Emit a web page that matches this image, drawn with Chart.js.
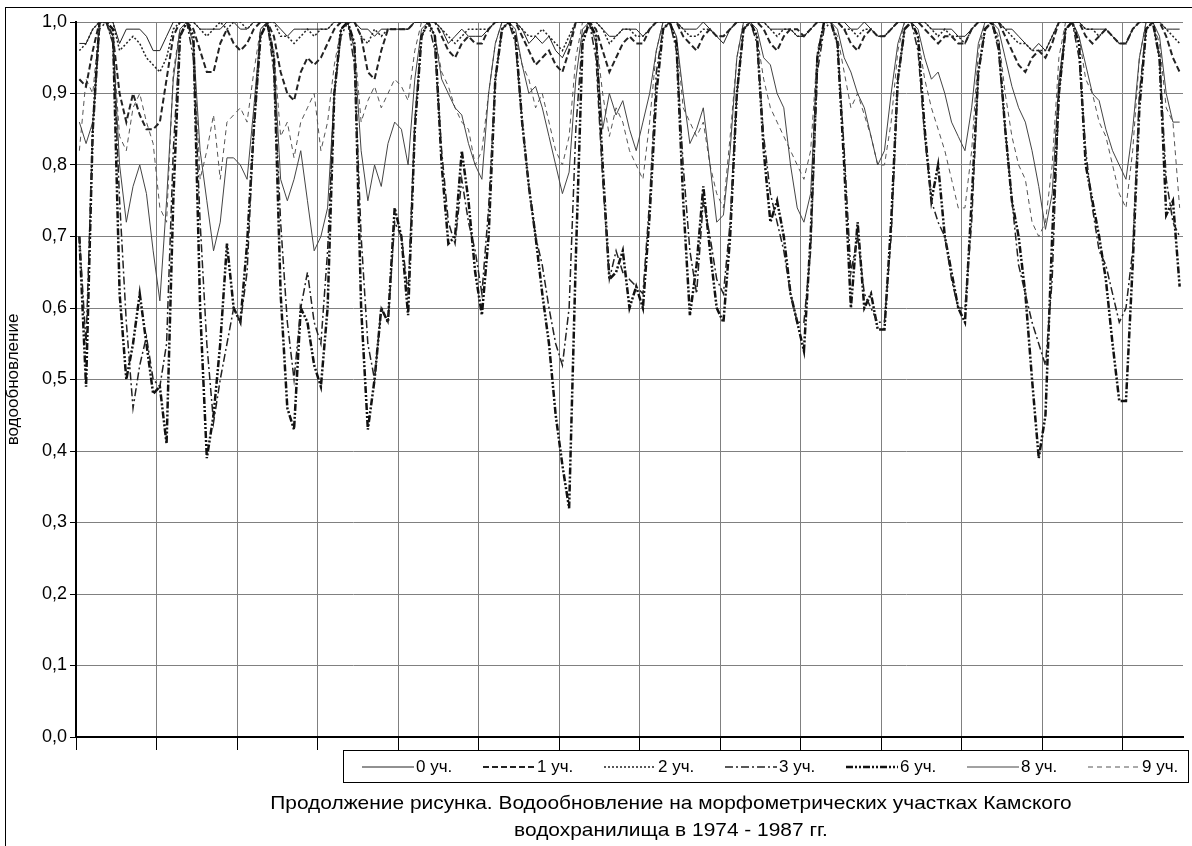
<!DOCTYPE html>
<html>
<head>
<meta charset="utf-8">
<script src="https://cdn.jsdelivr.net/npm/chart.js@4.4.1/dist/chart.umd.min.js"></script>
<style>
  html, body { margin: 0; padding: 0; background: #fff; }
  #wrap { width: 1192px; height: 846px; }
</style>
</head>
<body>
<div id="wrap"><canvas id="chart" width="1192" height="846"></canvas></div>
<script>
// monthly values, Jan 1974 .. Sep 1987
const years = [1974, 1975, 1976, 1977, 1978, 1979, 1980, 1981, 1982, 1983, 1984, 1985, 1986, 1987];
const months = ['I', 'II', 'III', 'IV', 'V', 'VI', 'VII', 'VIII', 'IX', 'X', 'XI', 'XII'];
const lastYearMonths = 9;
const yTickLabels = ['0,0', '0,1', '0,2', '0,3', '0,4', '0,5', '0,6', '0,7', '0,8', '0,9', '1,0'];
const seriesNames = ['0 уч.', '1 уч.', '2 уч.', '3 уч.', '6 уч.', '8 уч.', '9 уч.'];
const captionLines = [
    'Продолжение рисунка. Водообновление на морфометрических участках Камского',
    'водохранилища в 1974 - 1987 гг.'
];

const uch0 = [
    0.97, 0.97, 0.99, 1.00, 1.00, 1.00, 0.97, 0.99, 0.99, 0.99, 0.98, 0.96,
    0.96, 0.98, 1.00, 1.00, 1.00, 1.00, 0.99, 0.99, 0.99, 0.99, 1.00, 1.00,
    0.99, 0.99, 1.00, 1.00, 1.00, 1.00, 0.99, 0.98, 0.99, 0.99, 0.99, 0.99,
    0.99, 0.99, 1.00, 1.00, 1.00, 1.00, 0.99, 0.99, 0.98, 0.99, 0.99, 0.99,
    0.99, 0.99, 1.00, 1.00, 1.00, 1.00, 0.99, 0.97, 0.98, 0.99, 0.98, 0.98,
    0.98, 0.99, 1.00, 1.00, 1.00, 1.00, 0.99, 0.97, 0.98, 0.97, 0.98, 0.96,
    0.95, 0.97, 1.00, 1.00, 1.00, 1.00, 0.99, 0.98, 0.98, 0.99, 0.99, 0.99,
    0.98, 0.99, 1.00, 1.00, 1.00, 1.00, 0.99, 0.99, 0.99, 1.00, 0.99, 0.98,
    0.97, 0.99, 1.00, 1.00, 1.00, 1.00, 1.00, 0.99, 0.99, 0.99, 0.99, 0.98,
    0.98, 0.99, 1.00, 1.00, 1.00, 1.00, 1.00, 0.99, 0.99, 1.00, 0.99, 0.98,
    0.98, 0.99, 1.00, 1.00, 1.00, 1.00, 1.00, 0.99, 0.99, 0.99, 0.99, 0.98,
    0.98, 0.99, 1.00, 1.00, 1.00, 1.00, 0.99, 0.99, 0.98, 0.97, 0.96, 0.97,
    0.96, 0.98, 1.00, 1.00, 1.00, 1.00, 0.99, 0.99, 0.99, 0.99, 0.98, 0.97,
    0.97, 0.99, 1.00, 1.00, 1.00, 1.00, 0.99, 0.99, 0.99
];
const uch1 = [
    0.92, 0.91, 0.96, 1.00, 1.00, 0.98, 0.90, 0.86, 0.90, 0.87, 0.85, 0.85,
    0.86, 0.92, 0.98, 1.00, 1.00, 0.99, 0.96, 0.93, 0.93, 0.97, 0.99, 0.97,
    0.96, 0.97, 0.99, 1.00, 1.00, 0.98, 0.93, 0.90, 0.89, 0.93, 0.95, 0.94,
    0.95, 0.97, 0.99, 1.00, 1.00, 1.00, 0.98, 0.93, 0.92, 0.96, 0.99, 0.99,
    0.99, 0.99, 1.00, 1.00, 1.00, 1.00, 0.98, 0.96, 0.95, 0.97, 0.98, 0.97,
    0.97, 0.99, 1.00, 1.00, 1.00, 1.00, 0.98, 0.96, 0.94, 0.95, 0.96, 0.94,
    0.93, 0.96, 1.00, 1.00, 1.00, 0.99, 0.96, 0.93, 0.95, 0.97, 0.98, 0.97,
    0.97, 0.99, 1.00, 1.00, 1.00, 1.00, 0.98, 0.97, 0.96, 0.98, 0.99, 0.98,
    0.98, 0.99, 1.00, 1.00, 1.00, 1.00, 0.99, 0.97, 0.96, 0.98, 0.99, 0.99,
    0.98, 0.99, 1.00, 1.00, 1.00, 1.00, 0.99, 0.97, 0.96, 0.98, 0.99, 0.98,
    0.98, 0.99, 1.00, 1.00, 1.00, 1.00, 0.99, 0.98, 0.97, 0.98, 0.98, 0.97,
    0.97, 0.99, 1.00, 1.00, 1.00, 1.00, 0.98, 0.96, 0.94, 0.93, 0.95, 0.96,
    0.95, 0.97, 1.00, 1.00, 1.00, 1.00, 0.98, 0.97, 0.98, 0.99, 0.98, 0.97,
    0.97, 0.99, 1.00, 1.00, 1.00, 1.00, 0.98, 0.95, 0.93
];
const uch2 = [
    0.96, 0.97, 0.99, 1.00, 1.00, 1.00, 0.96, 0.97, 0.98, 0.97, 0.95, 0.94,
    0.93, 0.95, 0.99, 1.00, 1.00, 1.00, 0.99, 0.98, 0.99, 1.00, 0.99, 1.00,
    1.00, 0.99, 1.00, 1.00, 1.00, 1.00, 0.98, 0.98, 0.97, 0.98, 0.99, 0.98,
    0.99, 0.99, 1.00, 1.00, 1.00, 1.00, 0.98, 0.97, 0.99, 0.98, 0.99, 0.99,
    0.99, 0.99, 1.00, 1.00, 1.00, 1.00, 0.99, 0.98, 0.97, 0.98, 0.99, 0.99,
    0.99, 0.99, 1.00, 1.00, 1.00, 1.00, 0.99, 0.98, 0.98, 0.99, 0.98, 0.97,
    0.96, 0.98, 1.00, 1.00, 1.00, 1.00, 0.99, 0.97, 0.98, 0.99, 0.99, 0.98,
    0.98, 0.99, 1.00, 1.00, 1.00, 1.00, 0.99, 0.98, 0.98, 0.99, 0.99, 0.98,
    0.98, 0.99, 1.00, 1.00, 1.00, 1.00, 1.00, 0.99, 0.98, 0.99, 0.99, 0.98,
    0.98, 0.99, 1.00, 1.00, 1.00, 1.00, 0.99, 0.99, 0.98, 0.99, 0.99, 0.98,
    0.98, 0.99, 1.00, 1.00, 1.00, 1.00, 1.00, 0.99, 0.98, 0.99, 0.98, 0.98,
    0.97, 0.99, 1.00, 1.00, 1.00, 1.00, 0.99, 0.98, 0.97, 0.97, 0.96, 0.96,
    0.96, 0.98, 1.00, 1.00, 1.00, 1.00, 0.99, 0.99, 0.98, 0.99, 0.98, 0.97,
    0.97, 0.99, 1.00, 1.00, 1.00, 1.00, 0.99, 0.98, 0.97
];
const uch3 = [
    0.70, 0.55, 0.85, 0.99, 1.00, 0.97, 0.75, 0.58, 0.46, 0.52, 0.56, 0.50,
    0.49, 0.55, 0.82, 0.98, 1.00, 0.95, 0.72, 0.55, 0.44, 0.50, 0.55, 0.60,
    0.58, 0.65, 0.85, 0.98, 1.00, 0.93, 0.72, 0.58, 0.50, 0.60, 0.65, 0.58,
    0.55, 0.68, 0.90, 0.98, 1.00, 0.94, 0.70, 0.55, 0.50, 0.60, 0.58, 0.72,
    0.70, 0.62, 0.86, 0.98, 1.00, 0.96, 0.82, 0.72, 0.69, 0.78, 0.72, 0.68,
    0.62, 0.74, 0.92, 0.99, 1.00, 0.97, 0.86, 0.77, 0.70, 0.66, 0.60, 0.55,
    0.52, 0.60, 0.85, 0.98, 1.00, 0.95, 0.78, 0.64, 0.68, 0.65, 0.64, 0.63,
    0.62, 0.75, 0.93, 0.99, 1.00, 0.96, 0.80, 0.68, 0.62, 0.75, 0.70, 0.64,
    0.62, 0.72, 0.90, 0.99, 1.00, 0.97, 0.84, 0.76, 0.72, 0.68, 0.62, 0.58,
    0.58, 0.68, 0.93, 0.99, 1.00, 0.97, 0.82, 0.65, 0.70, 0.62, 0.60, 0.58,
    0.58, 0.70, 0.92, 0.99, 1.00, 0.96, 0.84, 0.75, 0.72, 0.70, 0.64, 0.60,
    0.60, 0.72, 0.93, 0.99, 1.00, 0.96, 0.85, 0.75, 0.66, 0.62, 0.58, 0.55,
    0.52, 0.64, 0.90, 0.99, 1.00, 0.95, 0.82, 0.74, 0.68, 0.66, 0.62, 0.58,
    0.60, 0.68, 0.90, 0.99, 1.00, 0.95, 0.78, 0.72, 0.70
];
const uch6 = [
    0.70, 0.49, 0.85, 1.00, 1.00, 0.99, 0.62, 0.50, 0.55, 0.62, 0.55, 0.48,
    0.49, 0.41, 0.75, 0.98, 1.00, 0.98, 0.60, 0.39, 0.45, 0.55, 0.69, 0.60,
    0.58, 0.69, 0.85, 0.98, 1.00, 0.95, 0.62, 0.46, 0.43, 0.60, 0.58, 0.52,
    0.49, 0.60, 0.90, 0.99, 1.00, 0.97, 0.60, 0.43, 0.50, 0.60, 0.58, 0.74,
    0.70, 0.59, 0.85, 0.98, 1.00, 0.98, 0.80, 0.69, 0.70, 0.82, 0.75, 0.65,
    0.59, 0.70, 0.92, 0.99, 1.00, 0.98, 0.86, 0.77, 0.70, 0.62, 0.55, 0.45,
    0.38, 0.32, 0.67, 0.97, 1.00, 0.98, 0.80, 0.64, 0.65, 0.68, 0.60, 0.63,
    0.60, 0.73, 0.90, 0.99, 1.00, 0.97, 0.75, 0.59, 0.66, 0.77, 0.68, 0.60,
    0.58, 0.70, 0.90, 0.99, 1.00, 0.98, 0.82, 0.72, 0.75, 0.70, 0.62, 0.58,
    0.54, 0.70, 0.95, 1.00, 1.00, 0.97, 0.80, 0.60, 0.72, 0.60, 0.62, 0.57,
    0.57, 0.72, 0.92, 0.99, 1.00, 0.98, 0.85, 0.75, 0.80, 0.70, 0.65, 0.60,
    0.58, 0.75, 0.93, 0.99, 1.00, 0.97, 0.85, 0.75, 0.70, 0.62, 0.50, 0.39,
    0.45, 0.70, 0.90, 0.99, 1.00, 0.97, 0.80, 0.75, 0.70, 0.64, 0.55, 0.47,
    0.47, 0.66, 0.88, 0.99, 1.00, 0.95, 0.73, 0.75, 0.63
];
const uch8 = [
    0.86, 0.83, 0.86, 1.00, 1.00, 0.98, 0.80, 0.72, 0.77, 0.80, 0.76, 0.68,
    0.61, 0.75, 0.92, 0.99, 1.00, 0.97, 0.82, 0.75, 0.68, 0.72, 0.81, 0.81,
    0.80, 0.78, 0.88, 0.99, 1.00, 0.95, 0.78, 0.75, 0.78, 0.82, 0.75, 0.68,
    0.70, 0.74, 0.90, 0.99, 1.00, 0.96, 0.82, 0.75, 0.80, 0.77, 0.83, 0.86,
    0.85, 0.80, 0.92, 0.99, 1.00, 0.98, 0.92, 0.90, 0.88, 0.87, 0.83, 0.80,
    0.78, 0.90, 0.97, 1.00, 1.00, 0.99, 0.94, 0.90, 0.91, 0.88, 0.84, 0.80,
    0.76, 0.79, 0.92, 0.99, 1.00, 0.97, 0.85, 0.90, 0.87, 0.89, 0.85, 0.82,
    0.86, 0.90, 0.96, 1.00, 1.00, 0.98, 0.90, 0.83, 0.85, 0.88, 0.80, 0.72,
    0.73, 0.82, 0.95, 1.00, 1.00, 0.99, 0.95, 0.94, 0.90, 0.88, 0.80, 0.74,
    0.72, 0.76, 0.95, 1.00, 1.00, 0.99, 0.95, 0.93, 0.90, 0.88, 0.84, 0.80,
    0.82, 0.90, 0.97, 1.00, 1.00, 0.99, 0.95, 0.92, 0.93, 0.90, 0.86, 0.84,
    0.82, 0.88, 0.97, 1.00, 1.00, 0.99, 0.95, 0.91, 0.88, 0.86, 0.82, 0.77,
    0.71, 0.76, 0.92, 0.99, 1.00, 0.98, 0.94, 0.90, 0.89, 0.85, 0.82, 0.80,
    0.78, 0.85, 0.95, 1.00, 1.00, 0.98, 0.90, 0.86, 0.86
];
const uch9 = [
    0.82, 0.92, 0.90, 1.00, 1.00, 0.97, 0.84, 0.82, 0.88, 0.90, 0.86, 0.83,
    0.74, 0.72, 0.93, 0.99, 1.00, 0.97, 0.78, 0.82, 0.87, 0.78, 0.86, 0.87,
    0.88, 0.86, 0.93, 0.99, 1.00, 0.96, 0.84, 0.86, 0.81, 0.86, 0.88, 0.90,
    0.82, 0.86, 0.94, 0.99, 1.00, 0.97, 0.86, 0.89, 0.91, 0.88, 0.90, 0.92,
    0.91, 0.89, 0.96, 1.00, 1.00, 0.98, 0.93, 0.91, 0.88, 0.86, 0.85, 0.80,
    0.82, 0.90, 0.97, 1.00, 1.00, 0.98, 0.94, 0.92, 0.88, 0.90, 0.86, 0.82,
    0.80, 0.84, 0.95, 1.00, 1.00, 0.98, 0.90, 0.84, 0.88, 0.86, 0.82, 0.80,
    0.78, 0.86, 0.96, 1.00, 1.00, 0.98, 0.88, 0.86, 0.84, 0.86, 0.80, 0.76,
    0.74, 0.84, 0.95, 1.00, 1.00, 0.98, 0.92, 0.88, 0.86, 0.84, 0.82, 0.80,
    0.78, 0.82, 0.96, 1.00, 1.00, 0.98, 0.93, 0.88, 0.90, 0.87, 0.84, 0.80,
    0.80, 0.86, 0.96, 1.00, 1.00, 0.98, 0.92, 0.88, 0.85, 0.82, 0.78, 0.74,
    0.74, 0.82, 0.96, 1.00, 1.00, 0.98, 0.90, 0.84, 0.80, 0.78, 0.72, 0.70,
    0.72, 0.80, 0.95, 1.00, 1.00, 0.98, 0.92, 0.90, 0.86, 0.84, 0.80, 0.76,
    0.74, 0.82, 0.95, 1.00, 1.00, 0.97, 0.88, 0.86, 0.74
];

const labels = [];
years.forEach((y, k) => {
    const n = k === years.length - 1 ? lastYearMonths : months.length;
    for (let m = 0; m < n; m++) labels.push(months[m] + ' ' + y);
});

const FONT = 'Arial, "Liberation Sans", sans-serif';

function line(label, data, color, width, dash) {
    return {
        label: label,
        data: data,
        borderColor: color,
        borderWidth: width,
        borderDash: dash,
        pointRadius: 0,
        fill: false,
        tension: 0
    };
}

// legend box, caption and outer frame
const decor = {
    id: 'decor',
    afterDraw(chart) {
        const c = chart.ctx;
        const top = chart.scales.x.bottom;
        const left = 343, right = 1188, h = 32;
        c.save();
        c.strokeStyle = '#000';
        c.lineWidth = 1;
        c.strokeRect(5.5, 7.5, 1300, 1000);
        c.strokeRect(left + 0.5, top + 0.5, right - left, h);
        c.font = '17px ' + FONT;
        c.textBaseline = 'middle';
        c.fillStyle = '#000';
        chart.data.datasets.forEach((ds, i) => {
            const x = 362 + i * 121;
            const y = top + h / 2 + 1;
            c.beginPath();
            c.setLineDash(ds.borderDash || []);
            c.lineWidth = ds.borderWidth;
            c.strokeStyle = ds.borderColor;
            c.moveTo(x, y);
            c.lineTo(x + 52, y);
            c.stroke();
            c.setLineDash([]);
            c.fillText(ds.label, x + 54, y);
        });
        c.font = '19px ' + FONT;
        c.textAlign = 'center';
        captionLines.forEach((t, i) => {
            c.save();
            c.translate(671, 804 + i * 27);
            c.scale(1.1, 1);
            c.fillText(t, 0, 0);
            c.restore();
        });
        c.restore();
    }
};

const ctx = document.getElementById('chart').getContext('2d');

new Chart(ctx, {
    type: 'line',
    data: {
        labels: labels,
        datasets: [
            line(seriesNames[0], uch0, '#222', 1, []),
            line(seriesNames[1], uch1, '#222', 2, [6, 3]),
            line(seriesNames[2], uch2, '#222', 1.5, [2, 2]),
            line(seriesNames[3], uch3, '#222', 1.5, [8, 3, 2, 3]),
            line(seriesNames[4], uch6, '#111', 2.5, [7, 2, 2, 2, 2, 2]),
            line(seriesNames[5], uch8, '#444', 1, []),
            line(seriesNames[6], uch9, '#555', 1, [5, 4])
        ]
    },
    options: {
        responsive: false,
        animation: false,
        layout: {
            padding: { left: 0, right: 9, top: 22, bottom: 96 }
        },
        scales: {
            x: {
                offset: true,
                ticks: { display: false, autoSkip: false },
                grid: {
                    offset: true,
                    drawTicks: true,
                    tickLength: 13,
                    color: c => c.index % 12 === 0 ? '#808080' : 'transparent',
                    tickColor: c => c.index % 12 === 0 ? '#000' : 'transparent'
                },
                border: { color: '#000', width: 2 }
            },
            y: {
                min: 0,
                max: 1,
                afterFit: scale => { scale.width = 76; },
                ticks: {
                    stepSize: 0.1,
                    padding: 3,
                    color: '#000',
                    font: { family: FONT, size: 18 },
                    callback: (v, i) => yTickLabels[i]
                },
                grid: { color: '#808080', tickLength: 6, tickColor: '#000' },
                border: { color: '#000', width: 2 },
                title: {
                    display: true,
                    text: 'водообновление',
                    color: '#000',
                    font: { family: FONT, size: 17, lineHeight: 1.2 },
                    padding: { top: 3, bottom: 0 }
                }
            }
        },
        plugins: {
            legend: { display: false },
            tooltip: { enabled: false }
        }
    },
    plugins: [decor]
});
</script>
</body>
</html>
